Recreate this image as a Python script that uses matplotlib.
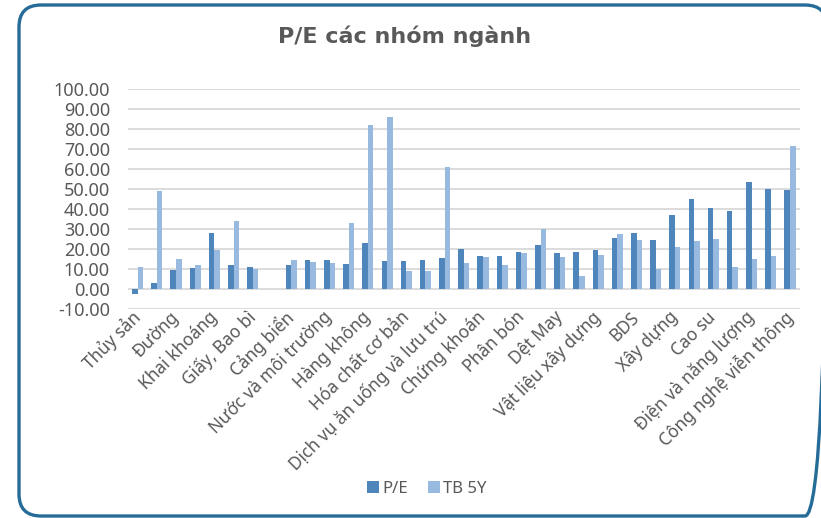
import numpy as np
import matplotlib
matplotlib.use("Agg")
from matplotlib import pyplot as plt
from matplotlib.patches import FancyBboxPatch

# labels shown under every other group
labels = ["Thủy sản", "Đường", "Khai khoáng", "Giấy, Bao bì", "Cảng biển",
          "Nước và môi trường", "Hàng không", "Hóa chất cơ bản",
          "Dịch vụ ăn uống và lưu trú", "Chứng khoán", "Phân bón", "Dệt May",
          "Vật liệu xây dựng", "BDS", "Xây dựng", "Cao su",
          "Điện và năng lượng", "Công nghệ viễn thông"]

pe = [-2.7, 2.8, 9.3, 10.7, 27.8, 12.0, 11.2, np.nan, 12.2, 14.5, 14.5, 12.5,
      23.0, 14.0, 13.8, 14.5, 15.3, 19.8, 16.7, 16.3, 18.3, 21.8, 18.0, 18.5,
      19.7, 25.5, 28.2, 24.3, 37.0, 44.8, 40.3, 38.8, 53.3, 49.8, 49.7]
tb5y = [10.8, 49.0, 15.0, 11.8, 19.5, 33.8, 10.2, np.nan, 14.3, 13.3, 13.0, 33.2,
        82.0, 85.8, 9.2, 9.2, 61.0, 12.8, 15.8, 11.8, 17.8, 30.2, 15.8, 6.5,
        17.0, 27.5, 24.5, 9.8, 21.2, 24.2, 24.8, 10.8, 15.0, 16.5, 71.3]

yticks = np.arange(-10, 101, 10)

plt.rcParams['font.family'] = ['Noto Sans', 'DejaVu Sans']

fig = plt.figure(figsize=(8.21, 5.18), dpi=100)

# frame layer in pixel units, so the rounded corners stay round
bg = fig.add_axes([0, 0, 1, 1])
bg.set_xlim(0, 821)
bg.set_ylim(518, 0)
bg.axis("off")
bg.add_patch(FancyBboxPatch((19, 5), 808, 511,
                            boxstyle="round,pad=0,rounding_size=22",
                            fill=False, edgecolor="#266C98", linewidth=2.4))

ax = fig.add_axes([0.156, 0.4035, 0.818, 0.4245])

x = np.arange(len(pe))
w = 0.29
ax.bar(x - w / 2, pe, w, color="#4E86BC", label="P/E", zorder=3)
ax.bar(x + w / 2, tb5y, w, color="#98B9E0", label="TB 5Y", zorder=3)

ax.set_xlim(-0.5, len(pe) - 0.5)
ax.set_ylim(-10, 100)
ax.set_yticks(yticks)
ax.set_yticklabels(["%.2f" % v for v in yticks], fontsize=13, color="#595959")
ax.yaxis.grid(True, color="#D9D9D9", linewidth=1.3, zorder=0)
ax.set_xticks(x[::2])
ax.set_xticklabels(labels, rotation=45, ha="right", va="center",
                   rotation_mode="anchor", fontsize=12.5, color="#595959")
ax.tick_params(axis="y", length=0, pad=13)
ax.tick_params(axis="x", length=0, pad=4)
ax.patch.set_alpha(0)
for s in ax.spines.values():
    s.set_visible(False)

fig.text(0.493, 0.93, "P/E các nhóm ngành", ha="center", va="center",
         fontsize=16, fontweight="bold", color="#595959", family="DejaVu Sans")

fig.legend(loc="center", bbox_to_anchor=(0.52, 0.056), ncol=2, frameon=False,
           fontsize=12, handlelength=0.7, handleheight=0.7, handletextpad=0.2,
           columnspacing=1.2, labelcolor="#595959")

fig.savefig("out.png", dpi=100)
